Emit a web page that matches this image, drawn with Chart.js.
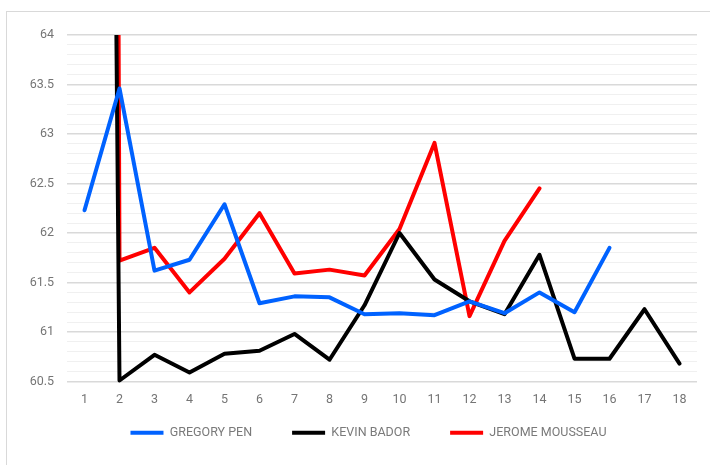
<!DOCTYPE html>
<html>
<head>
<meta charset="utf-8">
<script src="https://cdn.jsdelivr.net/npm/chart.js@4.4.1/dist/chart.umd.min.js"></script>
<style>
  html, body { margin: 0; padding: 0; background: #fff; }
  #frame { position: absolute; left: 6px; top: 11px; width: 720px; height: 460px; border: 1px solid #d9d9d9; }
  #wrap { position: absolute; left: 0; top: 0; width: 710px; height: 465px; }
</style>
</head>
<body>
<div id="frame"></div>
<div id="wrap"><canvas id="myChartLine"></canvas></div>
<script>
const categories = ['1', '2', '3', '4', '5', '6', '7', '8', '9', '10', '11', '12', '13', '14', '15', '16', '17', '18'];

const gregoryPen = [62.23, 63.46, 61.62, 61.73, 62.29, 61.29, 61.36, 61.35, 61.18, 61.19, 61.17, 61.31, 61.19, 61.40, 61.20, 61.85, null, null];
const kevinBador = [100, 60.51, 60.77, 60.59, 60.78, 60.81, 60.98, 60.72, 61.27, 62.00, 61.53, 61.31, 61.18, 61.78, 60.73, 60.73, 61.23, 60.68];
const jeromeMousseau = [150, 61.72, 61.85, 61.40, 61.74, 62.20, 61.59, 61.63, 61.57, 62.04, 62.91, 61.16, 61.92, 62.45, null, null, null, null];

const seriesNames = ['GREGORY PEN', 'KEVIN BADOR', 'JEROME MOUSSEAU'];
const seriesColors = ['#0062ff', '#000000', '#ff0000'];

const yMin = 60.5;
const yMax = 64;

const tickFont = { family: 'Roboto', size: 12.5 };

function makeSet(i, values) {
  return {
    label: seriesNames[i],
    data: values,
    borderColor: seriesColors[i],
    backgroundColor: seriesColors[i],
    borderWidth: 4,
    borderCapStyle: 'round',
    borderJoinStyle: 'round',
    pointRadius: 0,
    pointHoverRadius: 0,
    tension: 0,
    clip: { left: 5, right: 5, top: 0, bottom: 5 }
  };
}

// legend sits a bit right of centre in the original
const shiftLegend = {
  id: 'shiftLegend',
  afterLayout(chart) {
    chart.legend.left += 17;
    chart.legend.right += 17;
  }
};

const ctxLine = document.getElementById('myChartLine');

new Chart(ctxLine, {
  type: 'line',
  data: {
    labels: categories,
    datasets: [
      makeSet(0, gregoryPen),
      makeSet(1, kevinBador),
      makeSet(2, jeromeMousseau)
    ]
  },
  options: {
    responsive: true,
    maintainAspectRatio: false,
    animation: false,
    layout: { padding: { left: 6, right: 13, top: 35, bottom: 16 } },
    plugins: {
      tooltip: { enabled: false },
      legend: {
        position: 'bottom',
        labels: {
          usePointStyle: true,
          pointStyle: 'line',
          pointStyleWidth: 33,
          padding: 40,
          color: '#7a7a7a',
          font: { family: "'Liberation Sans Narrow', Roboto", size: 12.5 }
        }
      }
    },
    scales: {
      x: {
        offset: true,
        afterFit: function (axis) {
          axis.height = 5;
          // labels hang below the squeezed axis box, so don't clip them
          axis._computeLabelArea = function () { return undefined; };
        },
        grid: { display: false },
        border: { display: false },
        ticks: { color: '#757575', font: tickFont, padding: 3, maxRotation: 0 }
      },
      y: {
        min: yMin,
        max: yMax,
        afterFit: function (axis) { axis.width = 61; },
        border: { display: false },
        grid: {
          drawTicks: false,
          color: function (c) {
            const v = Math.round(c.tick.value * 10);
            return v % 5 === 0 ? '#d9d9d9' : '#f0f0f0';
          },
          lineWidth: function (c) {
            const v = Math.round(c.tick.value * 10);
            return v % 5 === 0 ? 1.5 : 1;
          }
        },
        ticks: {
          stepSize: 0.1,
          color: '#757575',
          font: tickFont,
          padding: 13,
          autoSkip: false,
          callback: function (value) {
            const v = Math.round(value * 10);
            return v % 5 === 0 ? String(v / 10) : '';
          }
        }
      }
    }
  },
  plugins: [shiftLegend]
});
</script>
</body>
</html>
